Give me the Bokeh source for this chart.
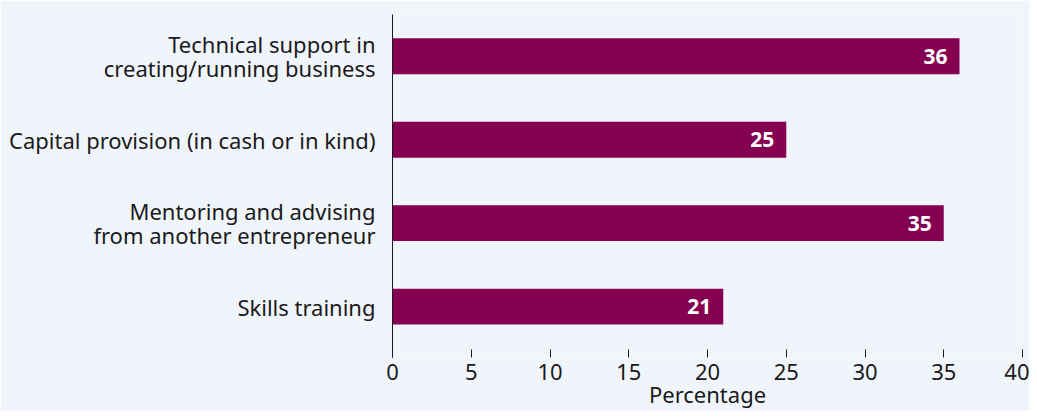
from bokeh.plotting import figure
from bokeh.models import ColumnDataSource, FixedTicker, Range1d
from bokeh.core.properties import value
from bokeh.embed import file_html
from bokeh.resources import INLINE

categories = [
    "Technical support in\ncreating/running business",
    "Capital provision (in cash or in kind)",
    "Mentoring and advising\nfrom another entrepreneur",
    "Skills training",
]
values = [36, 25, 35, 21]
x_ticks = [0, 5, 10, 15, 20, 25, 30, 35, 40]

BG = "#f0f5fc"
BAR = "#850050"
TXT = "#1a1a1a"
FONT = "Noto Sans"

n = len(categories)
ypos = [n - 1 - i for i in range(n)]
src = ColumnDataSource(dict(y=ypos, v=values, lab=[str(v) for v in values]))

p = figure(width=1029, height=411, output_backend="svg", toolbar_location=None,
           x_range=Range1d(0, 40), y_range=Range1d(-0.61, 3.5),
           background_fill_color=BG, border_fill_color=BG,
           min_border_left=392, min_border_right=7, min_border_top=14, min_border_bottom=54)
p.outline_line_color = None
p.xgrid.grid_line_color = None
p.ygrid.grid_line_color = None

p.hbar(y="y", right="v", left=0, height=0.43, color=BAR, line_color=None, source=src)
p.text(x="v", y="y", text="lab", source=src, x_offset=-12, text_align="right",
       text_baseline="middle", text_color="white", text_font_style="bold",
       text_font_size="21px", text_font=value(FONT))

xa = p.xaxis[0]
xa.ticker = FixedTicker(ticks=x_ticks)
xa.axis_line_color = None
xa.major_tick_in = 8
xa.major_tick_out = 0
xa.minor_tick_line_color = None
xa.major_tick_line_color = TXT
xa.major_label_standoff = 6
xa.major_label_text_font = FONT
xa.major_label_text_font_size = "22px"
xa.major_label_text_color = TXT
xa.axis_label = "Percentage"
xa.axis_label_text_font = FONT
xa.axis_label_text_font_size = "22px"
xa.axis_label_text_font_style = "normal"
xa.axis_label_text_color = TXT
xa.axis_label_standoff = -4

ya = p.yaxis[0]
ya.ticker = FixedTicker(ticks=ypos)
ya.major_label_overrides = {y: c for y, c in zip(ypos, categories)}
ya.axis_line_color = TXT
ya.axis_line_width = 1
ya.major_tick_line_color = None
ya.minor_tick_line_color = None
ya.major_label_standoff = 11
ya.major_label_text_font = FONT
ya.major_label_text_font_size = "22px"
ya.major_label_text_color = TXT
ya.major_label_text_align = "right"
ya.major_label_text_line_height = 0.8

open("out.html", "w").write(file_html(p, INLINE))
